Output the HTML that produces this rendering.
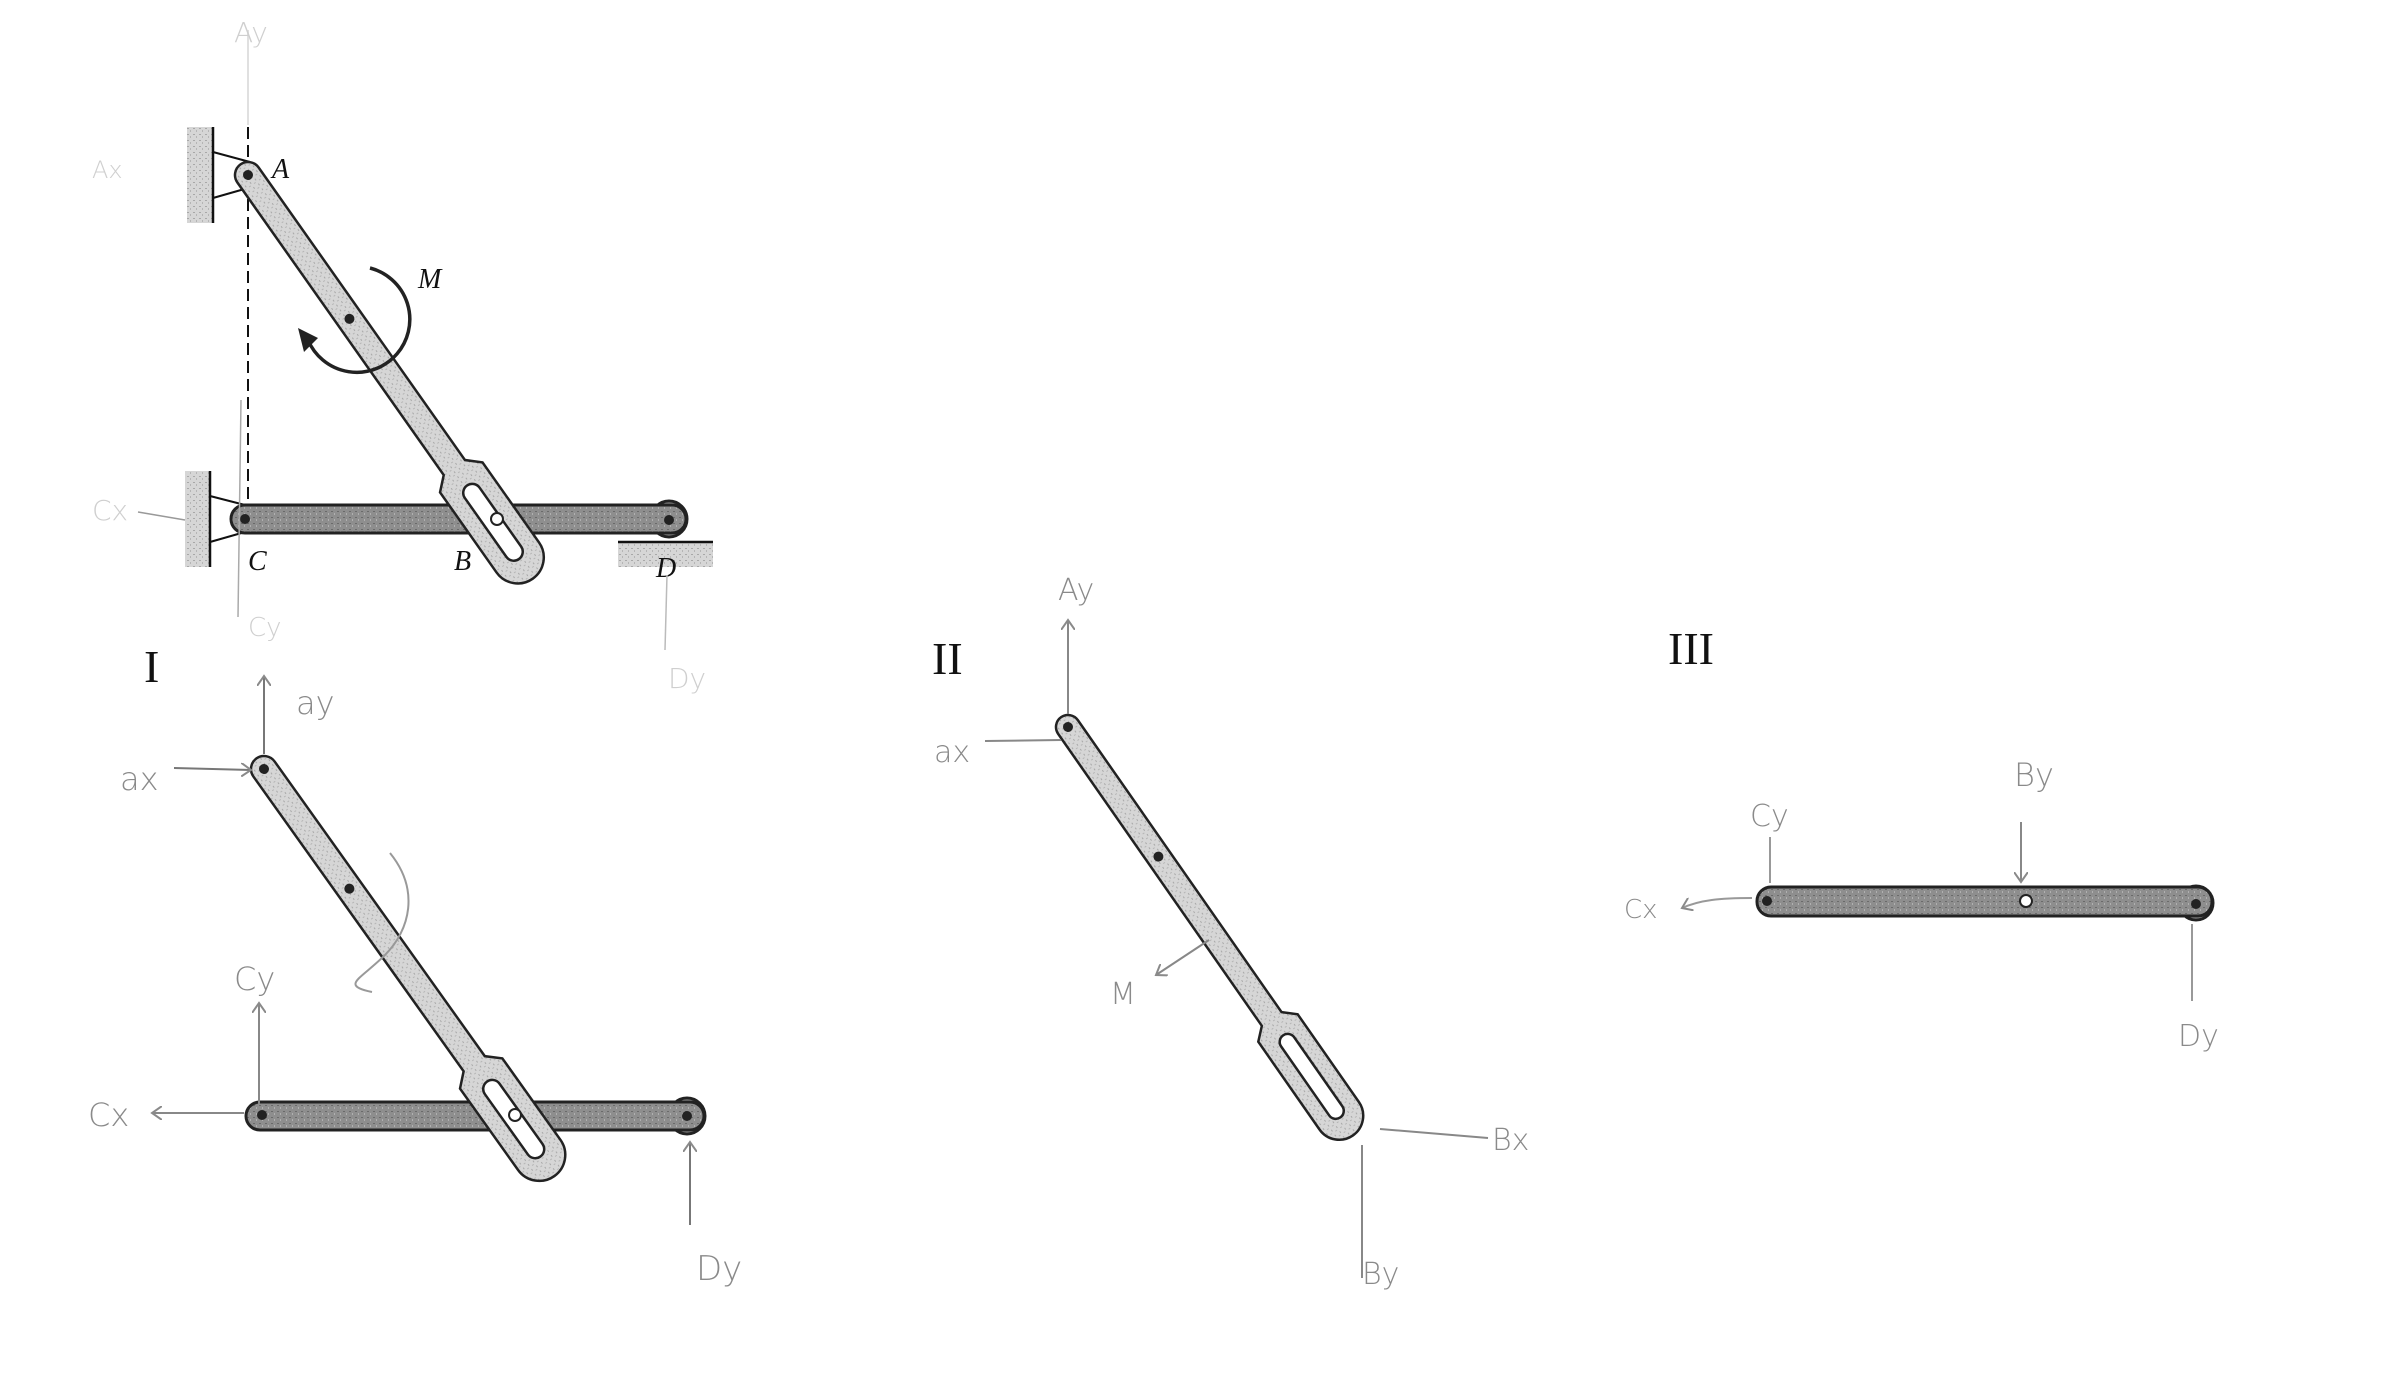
<!DOCTYPE html>
<html><head><meta charset="utf-8"><style>
html,body{margin:0;padding:0;background:#fff;}
svg{display:block;}
.hw{font-family:"DejaVu Sans","Liberation Sans",sans-serif;fill:#8a8a8a;font-weight:200;}
.hwl{fill:#cfcfcf;}
.lbl{font-family:"Liberation Serif",serif;font-style:italic;fill:#111;font-size:28px;}
.rom{font-family:"Liberation Serif",serif;fill:#111;font-size:46px;}
</style></head><body>
<svg width="2400" height="1400" viewBox="0 0 2400 1400" xmlns="http://www.w3.org/2000/svg">
<defs>
<pattern id="st" width="6" height="6" patternUnits="userSpaceOnUse">
<rect width="6" height="6" fill="#d6d6d6"/><rect x="1" y="2" width="2" height="1" fill="#a8a8a8"/><rect x="4" y="4" width="1" height="2" fill="#b5b5b5"/></pattern>
<pattern id="bst" width="6" height="6" patternUnits="userSpaceOnUse">
<rect width="6" height="6" fill="#8e8e8e"/><rect x="1" y="1" width="2" height="1" fill="#6a6a6a"/><rect x="4" y="3" width="1" height="2" fill="#b0b0b0"/></pattern>
<marker id="ah" markerWidth="14" markerHeight="14" refX="10" refY="7" orient="auto" markerUnits="userSpaceOnUse">
<path d="M0,0 L10,7 L0,14" fill="none" stroke="#8a8a8a" stroke-width="2"/></marker>
</defs>

<!-- ===== TOP DIAGRAM ===== -->
<rect x="187" y="127" width="26" height="96" fill="url(#st)"/>
<line x1="213" y1="127" x2="213" y2="223" stroke="#111" stroke-width="2.5"/>
<rect x="185" y="471" width="25" height="96" fill="url(#st)"/>
<line x1="210" y1="471" x2="210" y2="567" stroke="#111" stroke-width="2.5"/>
<path d="M213,152 L250,162 M213,198 L248,188" stroke="#111" stroke-width="2"/>
<path d="M210,496 L245,505 M210,542 L245,532" stroke="#111" stroke-width="2"/>
<line x1="248" y1="127" x2="248" y2="530" stroke="#111" stroke-width="2" stroke-dasharray="12,6"/>
<rect x="618" y="542" width="95" height="25" fill="url(#st)"/>
<line x1="618" y1="542" x2="713" y2="542" stroke="#111" stroke-width="2.5"/>
<!-- bar CD -->
<circle cx="669" cy="519" r="18" fill="#9a9a9a" stroke="#222" stroke-width="3"/>
<rect x="231" y="505" width="455" height="28" rx="14" fill="url(#bst)" stroke="#222" stroke-width="3"/>
<circle cx="245" cy="519" r="5" fill="#222"/><circle cx="669" cy="520" r="5" fill="#222"/>
<!-- link AB top -->
<g transform="translate(248,175) rotate(54.8)">
<path d="M0,-13 L358,-13 L370,-26 L468,-26 A26,26 0 0 1 468,26 L370,26 L358,13 L0,13 A13,13 0 0 1 0,-13 Z" fill="url(#st)" stroke="#222" stroke-width="2.5"/>
<rect x="380" y="-9" width="90" height="18" rx="9" fill="#fff" stroke="#222" stroke-width="2.5"/>
<circle cx="0" cy="0" r="5" fill="#222"/><circle cx="176" cy="0" r="5" fill="#222"/>
</g>
<circle cx="497" cy="519" r="6" fill="#fff" stroke="#222" stroke-width="2"/>
<!-- moment -->
<path d="M370,268 A53,53 0 1 1 308,340" fill="none" stroke="#222" stroke-width="3.5"/>
<path d="M298,328 L304,352 L318,338 Z" fill="#222"/>
<text class="lbl" x="272" y="178">A</text>
<text class="lbl" x="418" y="288">M</text>
<text class="lbl" x="248" y="570">C</text>
<text class="lbl" x="454" y="570">B</text>
<text class="lbl" x="656" y="577">D</text>
<!-- faint handwriting top -->
<path d="M248,30 L248,125" stroke="#e0e0e0" stroke-width="2" fill="none"/>
<text class="hw hwl" x="234" y="42" font-size="28">Ay</text>
<text class="hw hwl" x="92" y="178" font-size="24">Ax</text>
<path d="M138,512 L185,520" stroke="#999" stroke-width="1.5"/>
<text class="hw hwl" x="92" y="520" font-size="28">Cx</text>
<line x1="241" y1="400" x2="238" y2="617" stroke="#aaa" stroke-width="1.5"/>
<text class="hw hwl" x="248" y="636" font-size="26">Cy</text>
<line x1="667" y1="575" x2="665" y2="650" stroke="#bbb" stroke-width="1.5"/>
<text class="hw hwl" x="668" y="688" font-size="28">Dy</text>

<!-- ===== DIAGRAM I ===== -->
<text class="rom" x="144" y="682">I</text>
<circle cx="687" cy="1116" r="18" fill="#9a9a9a" stroke="#222" stroke-width="3"/>
<rect x="246" y="1102" width="458" height="28" rx="14" fill="url(#bst)" stroke="#222" stroke-width="3"/>
<circle cx="262" cy="1115" r="5" fill="#222"/><circle cx="687" cy="1116" r="5" fill="#222"/>
<g transform="translate(264,769) rotate(54.5)">
<path d="M0,-13 L362,-13 L374,-26 L474,-26 A26,26 0 0 1 474,26 L374,26 L362,13 L0,13 A13,13 0 0 1 0,-13 Z" fill="url(#st)" stroke="#222" stroke-width="2.5"/>
<rect x="384" y="-9" width="92" height="18" rx="9" fill="#fff" stroke="#222" stroke-width="2.5"/>
<circle cx="0" cy="0" r="5" fill="#222"/><circle cx="147" cy="0" r="5" fill="#222"/>
</g>
<circle cx="515" cy="1115" r="6" fill="#fff" stroke="#222" stroke-width="2"/>
<line x1="264" y1="754" x2="264" y2="676" stroke="#777" stroke-width="2" marker-end="url(#ah)"/>
<text class="hw" x="296" y="714" font-size="32">ay</text>
<line x1="174" y1="768" x2="251" y2="770" stroke="#777" stroke-width="2" marker-end="url(#ah)"/>
<text class="hw" x="120" y="790" font-size="32">ax</text>
<path d="M390,853 C420,890 410,930 385,955 C360,980 340,985 372,992" fill="none" stroke="#999" stroke-width="2"/>
<line x1="259" y1="1104" x2="259" y2="1003" stroke="#888" stroke-width="2" marker-end="url(#ah)"/>
<text class="hw" x="234" y="990" font-size="32">Cy</text>
<line x1="244" y1="1113" x2="152" y2="1113" stroke="#888" stroke-width="2" marker-end="url(#ah)"/>
<text class="hw" x="88" y="1126" font-size="32">Cx</text>
<line x1="690" y1="1225" x2="690" y2="1142" stroke="#777" stroke-width="2" marker-end="url(#ah)"/>
<text class="hw" x="696" y="1280" font-size="34">Dy</text>

<!-- ===== DIAGRAM II ===== -->
<text class="rom" x="932" y="674">II</text>
<g transform="translate(1068,727) rotate(55.1)">
<path d="M0,-12 L356,-12 L367,-24 L474,-24 A24,24 0 0 1 474,24 L367,24 L356,12 L0,12 A12,12 0 0 1 0,-12 Z" fill="url(#st)" stroke="#222" stroke-width="2.5"/>
<rect x="376" y="-8" width="100" height="16" rx="8" fill="#fff" stroke="#222" stroke-width="2.5"/>
<circle cx="0" cy="0" r="5" fill="#222"/><circle cx="158" cy="0" r="5" fill="#222"/>
</g>
<line x1="1068" y1="714" x2="1068" y2="620" stroke="#888" stroke-width="2" marker-end="url(#ah)"/>
<text class="hw" x="1058" y="600" font-size="30">Ay</text>
<line x1="985" y1="741" x2="1061" y2="740" stroke="#888" stroke-width="2"/>
<text class="hw" x="934" y="762" font-size="30">ax</text>
<line x1="1209" y1="940" x2="1156" y2="975" stroke="#888" stroke-width="2" marker-end="url(#ah)"/>
<text class="hw" x="1110" y="1004" font-size="30">M</text>
<line x1="1380" y1="1129" x2="1488" y2="1138" stroke="#888" stroke-width="2"/>
<text class="hw" x="1492" y="1150" font-size="30">Bx</text>
<line x1="1362" y1="1145" x2="1362" y2="1278" stroke="#888" stroke-width="2"/>
<text class="hw" x="1362" y="1284" font-size="30">By</text>

<!-- ===== DIAGRAM III ===== -->
<text class="rom" x="1668" y="664">III</text>
<circle cx="2196" cy="903" r="17" fill="#9a9a9a" stroke="#222" stroke-width="3"/>
<rect x="1757" y="887" width="455" height="29" rx="14" fill="url(#bst)" stroke="#222" stroke-width="3"/>
<circle cx="1767" cy="901" r="5" fill="#222"/><circle cx="2196" cy="904" r="5" fill="#222"/>
<circle cx="2026" cy="901" r="6" fill="#fff" stroke="#222" stroke-width="2"/>
<line x1="1770" y1="883" x2="1770" y2="837" stroke="#999" stroke-width="2"/>
<text class="hw" x="1750" y="826" font-size="30">Cy</text>
<path d="M1752,898 C1720,898 1700,900 1682,908" fill="none" stroke="#999" stroke-width="2" marker-end="url(#ah)"/>
<text class="hw" x="1624" y="918" font-size="26">Cx</text>
<line x1="2021" y1="822" x2="2021" y2="882" stroke="#888" stroke-width="2" marker-end="url(#ah)"/>
<text class="hw" x="2014" y="786" font-size="32">By</text>
<line x1="2192" y1="924" x2="2192" y2="1001" stroke="#999" stroke-width="2"/>
<text class="hw" x="2178" y="1046" font-size="30">Dy</text>
</svg>
</body></html>
